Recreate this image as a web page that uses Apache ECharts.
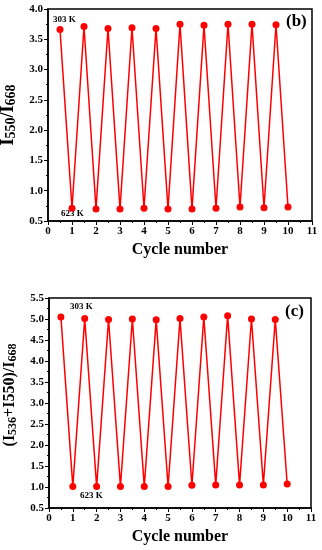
<!DOCTYPE html>
<html><head><meta charset="utf-8">
<script src="https://cdn.jsdelivr.net/npm/echarts@6/dist/echarts.min.js"></script>
<style>html,body{margin:0;padding:0;background:#fff}#c{width:322px;height:550px}</style>
</head><body><div id="c"></div>
<script>
const cycles = [0.5,1,1.5,2,2.5,3,3.5,4,4.5,5,5.5,6,6.5,7,7.5,8,8.5,9,9.5,10];
const ratioB = [3.66,0.71,3.71,0.70,3.68,0.70,3.69,0.71,3.68,0.70,3.75,0.70,3.73,0.71,3.75,0.73,3.75,0.72,3.74,0.73];
const ratioC = [5.05,1.01,5.01,1.01,4.99,1.01,5.00,1.01,4.98,1.01,5.01,1.04,5.05,1.05,5.08,1.05,5.00,1.05,4.99,1.07];
const xTicks = [0,1,2,3,4,5,6,7,8,9,10,11];
const yTicksB = [0.5,1.0,1.5,2.0,2.5,3.0,3.5,4.0];
const yTicksC = [0.5,1.0,1.5,2.0,2.5,3.0,3.5,4.0,4.5,5.0,5.5];

const FONT = '"Liberation Serif","DejaVu Serif",serif';
const chart = echarts.init(document.getElementById('c'), null, {renderer:'canvas'});
function xAx(gi){
  return {gridIndex:gi,type:'value',min:xTicks[0],max:xTicks[xTicks.length-1],interval:1,
    name:'Cycle number',nameLocation:'middle',nameGap:21,
    nameTextStyle:{fontFamily:FONT,fontWeight:'bold',fontSize:16,color:'#000'},
    axisLine:{lineStyle:{color:'#000',width:1.5}},
    axisTick:{inside:false,length:4,lineStyle:{color:'#000',width:1}},
    minorTick:{show:true,splitNumber:2,length:2,lineStyle:{color:'#000'}},
    splitLine:{show:false},
    axisLabel:{fontFamily:FONT,fontWeight:'bold',fontSize:11,color:'#000',margin:5}};
}
function yAx(gi,ticks,rich,gap,big,small,pad){
  return {gridIndex:gi,type:'value',min:ticks[0],max:ticks[ticks.length-1],interval:0.5,
    name:rich,nameLocation:'middle',nameGap:gap,
    nameTextStyle:{fontFamily:FONT,fontWeight:'bold',fontSize:big,color:'#000',padding:pad,
      rich:{a:{fontFamily:FONT,fontWeight:'bold',fontSize:big,color:'#000'},
            s:{fontFamily:FONT,fontWeight:'bold',fontSize:small,color:'#000',padding:[Math.round(big*0.4),0,0,0]}}},
    axisLine:{lineStyle:{color:'#000',width:1.5}},
    axisTick:{inside:false,length:4,lineStyle:{color:'#000',width:1}},
    minorTick:{show:true,splitNumber:2,length:2,lineStyle:{color:'#000'}},
    splitLine:{show:false},
    axisLabel:{fontFamily:FONT,fontWeight:'bold',fontSize:11,color:'#000',margin:5,
      formatter:v=>v.toFixed(1)}};
}
function ser(gi,vals){
  return {type:'line',xAxisIndex:gi,yAxisIndex:gi,data:cycles.map((c,i)=>[c,vals[i]]),
    symbol:'circle',symbolSize:7,itemStyle:{color:'#ff0000'},
    lineStyle:{color:'#ff0000',width:1.5},animation:false};
}
function txt(x,y,t,size){
  return {type:'text',left:x,top:y,style:{text:t,fontFamily:FONT,fontWeight:'bold',fontSize:size,fill:'#000'}};
}
chart.setOption({
  backgroundColor:'#fff',
  grid:[
    {left:48,right:10,top:9,bottom:329,show:true,borderColor:'#000',borderWidth:1.5,outerBoundsMode:'none',containLabel:false},
    {left:49,right:11,top:298,bottom:42,show:true,borderColor:'#000',borderWidth:1.5,outerBoundsMode:'none',containLabel:false}
  ],
  xAxis:[xAx(0),xAx(1)],
  yAxis:[yAx(0,yTicksB,'{a|I}{s|550}{a|/I}{s|668}',22,18,14,0),
         yAx(1,yTicksC,'{a|(I}{s|536}{a|+I550)/I}{s|668}',28,16,12,[0,0,0,16])],
  series:[ser(0,ratioB),ser(1,ratioC)],
  graphic:[
    txt(53,15,'303 K',9), txt(61,209,'623 K',9),
    txt(286,13,'(b)',17),
    txt(70,302,'303 K',9), txt(80,491,'623 K',9),
    txt(285,303,'(c)',17)
  ]
});
</script></body></html>
